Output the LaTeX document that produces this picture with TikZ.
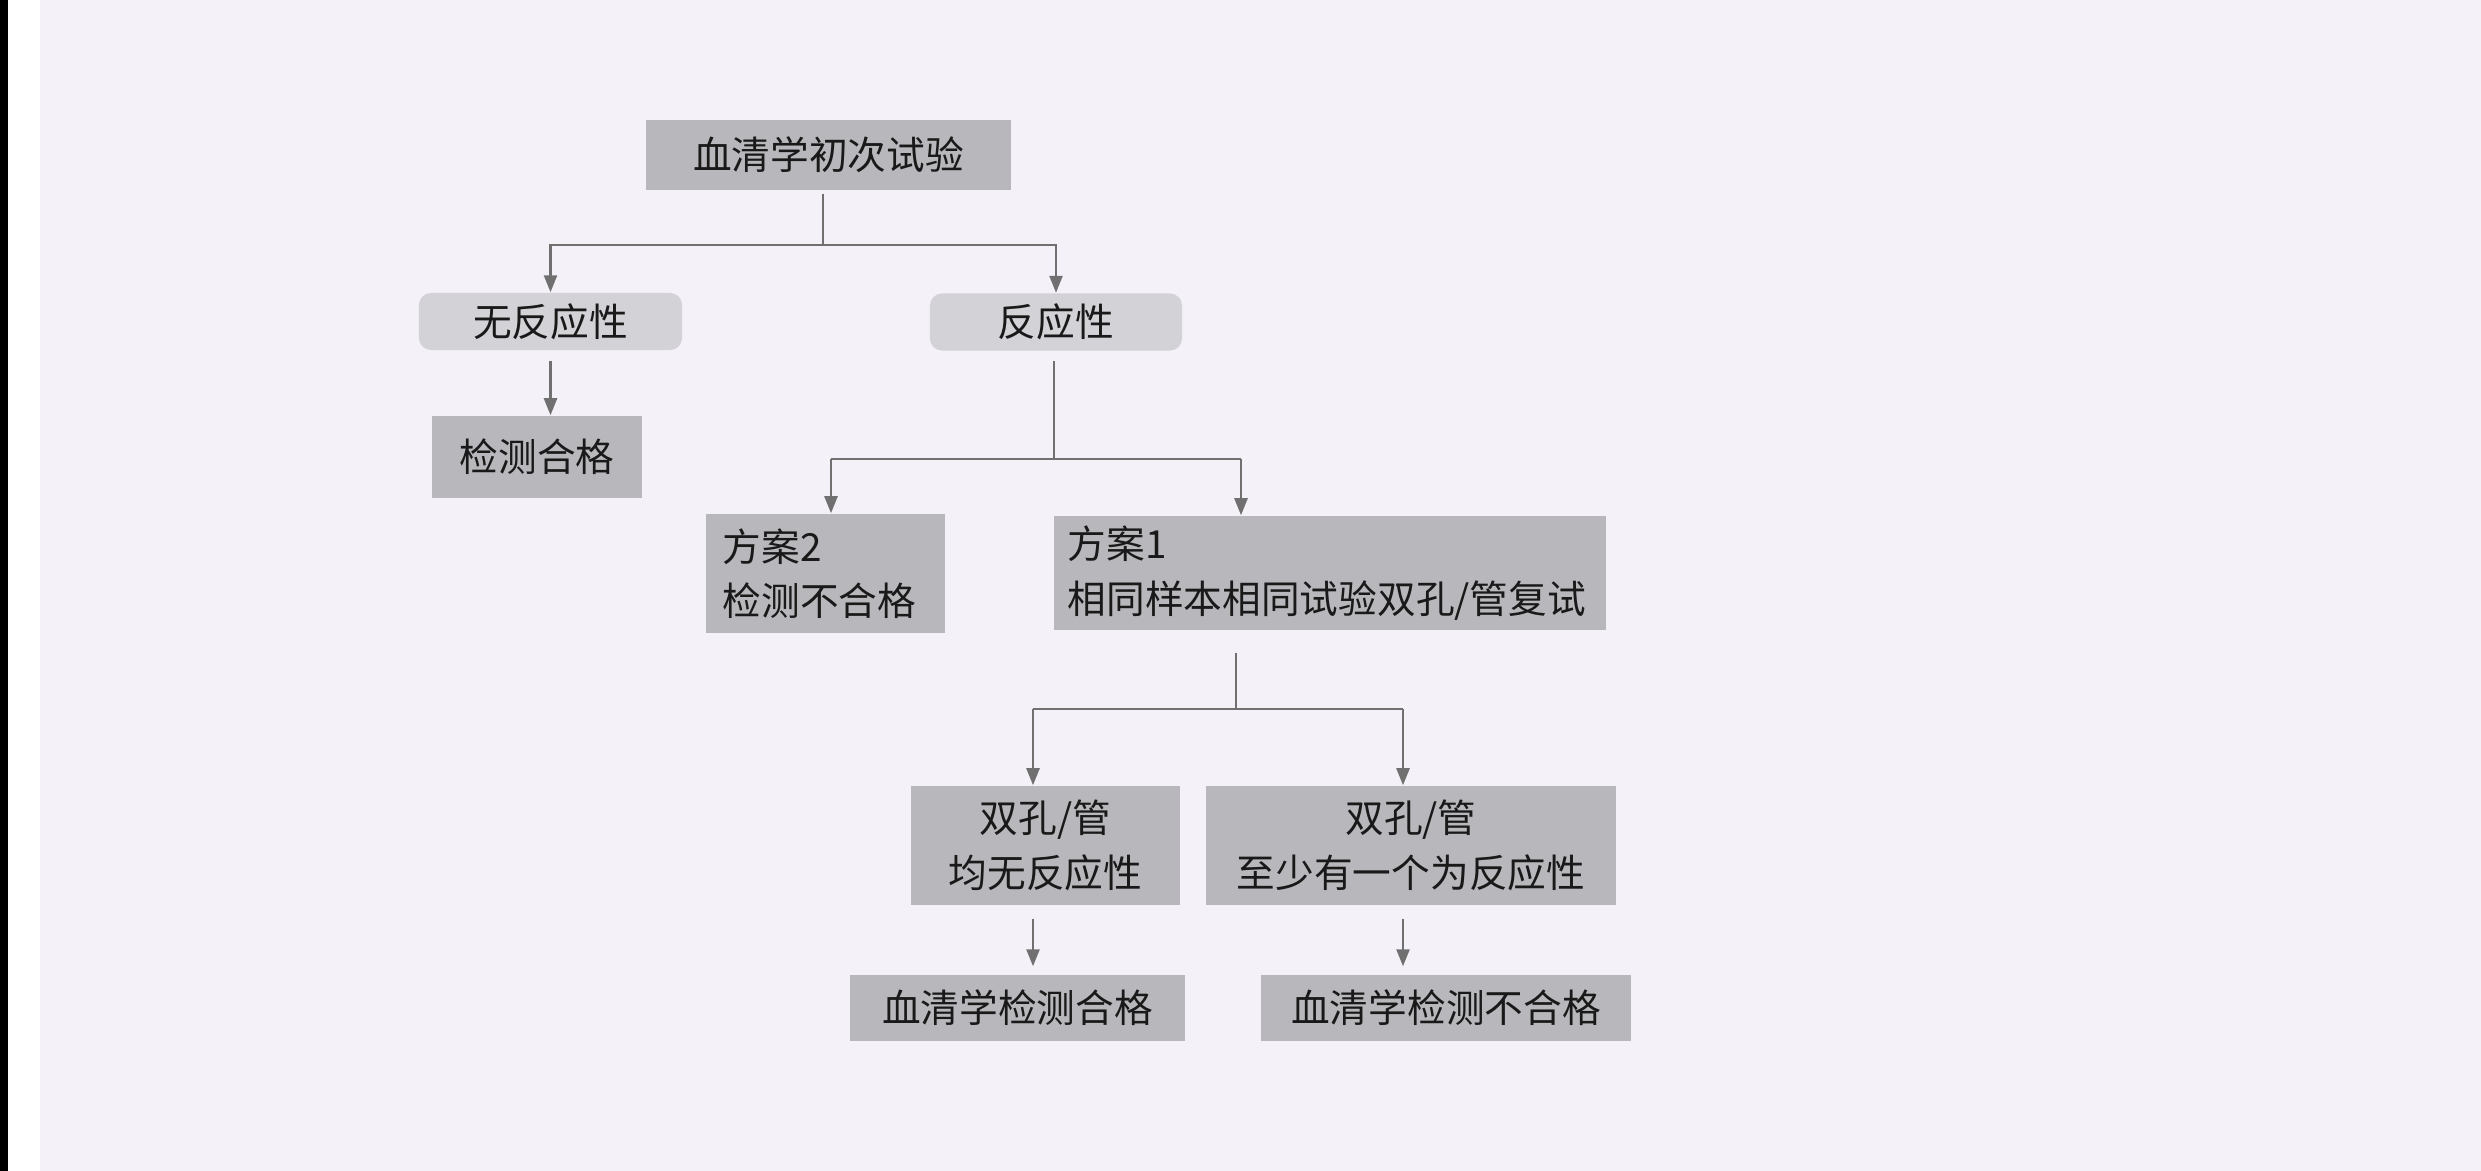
\documentclass[tikz,border=0pt]{standalone}
\usepackage{fontspec}
\newfontfamily\cjk{Noto Sans CJK SC}
\usetikzlibrary{arrows.meta}
\definecolor{bg}{HTML}{F4F1F8}
\definecolor{boxd}{HTML}{B8B7BB}
\definecolor{boxl}{HTML}{D3D2D7}
\definecolor{ln}{HTML}{707070}
\begin{document}
\begin{tikzpicture}[x=0.01cm,y=-0.01cm,
 box/.style={fill=boxd, inner sep=0pt, font=\cjk\fontsize{11}{15.5}\selectfont, text=black!90},
 rbox/.style={box, fill=boxl, rounded corners=1.2mm},
 conn/.style={draw=ln, line width=0.7pt},
 arr/.style={conn, -{Triangle[length=1.7mm,width=1.3mm]}}]
\fill[bg] (0,0) rectangle (2481,1171);
\fill[black] (0,0) rectangle (8,1171);
\fill[white] (8,0) rectangle (40,1171);
\useasboundingbox (0,0) rectangle (2481,1171);

\node[box, minimum width=3.65cm, minimum height=0.70cm] (top) at (828.5,155) {血清学初次试验};
\node[rbox, minimum width=2.63cm, minimum height=0.57cm] (neg) at (550.5,321.5) {无反应性};
\node[rbox, minimum width=2.52cm, minimum height=0.57cm] (pos) at (1056,322) {反应性};
\node[box, minimum width=2.10cm, minimum height=0.82cm] (ok) at (537,457) {检测合格};
\node[box, minimum width=2.39cm, minimum height=1.19cm, align=left, text width=2.05cm] (p2) at (825.5,573.5) {方案2\\检测不合格};
\node[box, minimum width=5.52cm, minimum height=1.14cm, align=left, text width=5.24cm] (p1) at (1330,573) {方案1\\相同样本相同试验双孔/管复试};
\node[box, minimum width=2.69cm, minimum height=1.19cm, align=center] (d1) at (1045.5,845.5) {双孔/管\\均无反应性};
\node[box, minimum width=4.10cm, minimum height=1.19cm, align=center] (d2) at (1411,845.5) {双孔/管\\至少有一个为反应性};
\node[box, minimum width=3.35cm, minimum height=0.66cm] (r1) at (1017.5,1008) {血清学检测合格};
\node[box, minimum width=3.70cm, minimum height=0.66cm] (r2) at (1446,1008) {血清学检测不合格};

% level 1
\coordinate (t1) at (823,245);
\draw[conn] ([yshift=-0.3mm]top.south -| t1) -- (t1);
\draw[arr] (t1) -| (neg.north);
\draw[arr] (t1) -| (pos.north);
% no reaction
\draw[arr] ([yshift=-1mm]neg.south) -- (neg.south |- ok.north);
% reaction
\coordinate (q1) at (1054,459);
\coordinate (q2) at (831,459);
\coordinate (q3) at (1241,459);
\draw[conn] ([yshift=-1mm]pos.south -| q1) -- (q1);
\draw[conn] (q2) -- (q3);
\draw[arr] (q2) -- (q2 |- p2.north);
\draw[arr] (q3) -- (q3 |- p1.north);
% plan 1
\coordinate (s1) at (1236,709);
\coordinate (s2) at (1033,709);
\coordinate (s3) at (1403,709);
\draw[conn] ([yshift=-2.2mm]p1.south -| s1) -- (s1);
\draw[conn] (s2) -- (s3);
\draw[arr] (s2) -- (s2 |- d1.north);
\draw[arr] (s3) -- (s3 |- d2.north);
\draw[arr, shorten >=0.8mm] ([yshift=-1.3mm]d1.south -| s2) -- (s2 |- r1.north);
\draw[arr, shorten >=0.8mm] ([yshift=-1.3mm]d2.south -| s3) -- (s3 |- r2.north);
\end{tikzpicture}
\end{document}
